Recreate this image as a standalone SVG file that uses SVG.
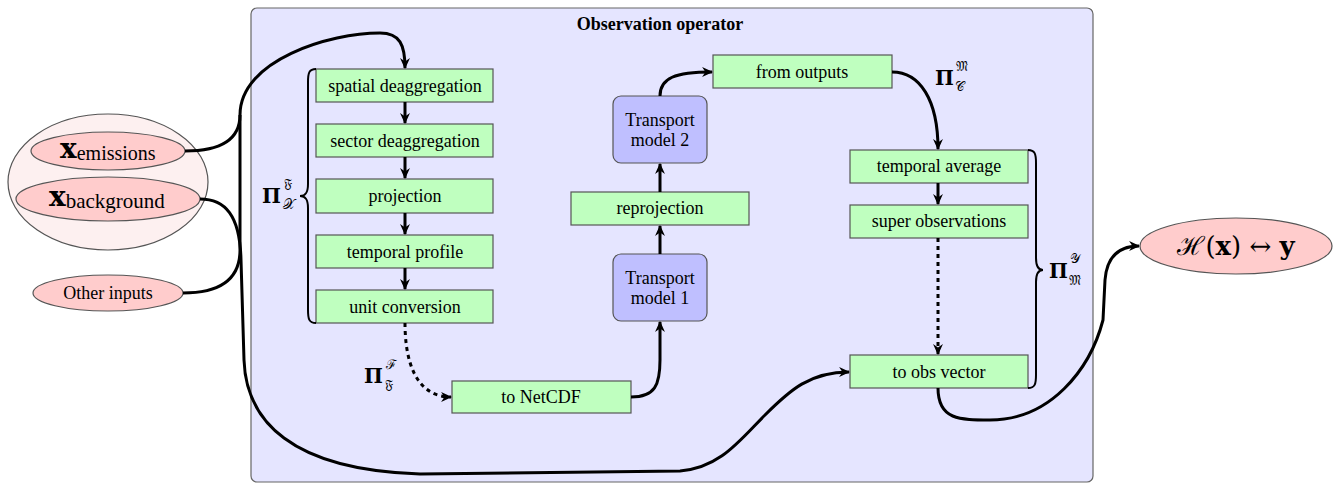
<svg xmlns="http://www.w3.org/2000/svg" width="1336" height="483" viewBox="0 0 1336 483">
<style>
.box{fill:#bfffbf;stroke:#555;stroke-width:1.2}
.tm{fill:#bfbfff;stroke:#555;stroke-width:1.2}
.ell{fill:#ffcccc;stroke:#555;stroke-width:1.2}
.t{font-family:"Liberation Serif","DejaVu Serif",serif;font-size:18px;fill:#000;text-anchor:middle}
.m{font-family:"DejaVu Serif","Liberation Serif",serif;fill:#000}
.c{fill:none;stroke:#000;stroke-width:3}
.d{fill:none;stroke:#000;stroke-width:3;stroke-dasharray:4 4}
.br{fill:none;stroke:#000;stroke-width:2}
</style>
<defs>
<marker id="arr" viewBox="0 0 10 10" refX="9" refY="5" markerWidth="11" markerHeight="11" orient="auto" markerUnits="userSpaceOnUse">
<path d="M0,0.5 L10,5 L0,9.5 L3,5 z" fill="#000"/>
</marker>
</defs>
<g id="container">
<rect x="251" y="8" width="842" height="474" rx="6" fill="#e5e5ff" stroke="#666" stroke-width="1.2"/>
<text x="660" y="30" class="t" font-weight="bold" style="font-size:18px">Observation operator</text>
</g>
<g id="inputs-group">
<ellipse cx="108" cy="182" rx="100" ry="68" fill="#fdf0f0" stroke="#555" stroke-width="1.2"/>
</g>
<g id="x-emissions">
<ellipse class="ell" cx="108" cy="151" rx="77" ry="19"/>
<text x="60" y="158" class="m" font-weight="bold" font-size="28">x<tspan class="t" font-weight="normal" style="font-size:20px;text-anchor:start" dy="2">emissions</tspan></text>
</g>
<g id="x-background">
<ellipse class="ell" cx="108" cy="199" rx="92" ry="22"/>
<text x="49" y="206" class="m" font-weight="bold" font-size="28">x<tspan class="t" font-weight="normal" style="font-size:21px;text-anchor:start" dy="2">background</tspan></text>
</g>
<g id="other-inputs">
<ellipse class="ell" cx="108" cy="293" rx="75" ry="18"/>
<text x="108" y="299" class="t">Other inputs</text>
</g>
<g id="spatial-deaggregation">
<rect class="box" x="316" y="69" width="177" height="33"/>
<text x="405" y="92" class="t">spatial deaggregation</text>
</g>
<g id="sector-deaggregation">
<rect class="box" x="316" y="124" width="177" height="33"/>
<text x="405" y="147" class="t">sector deaggregation</text>
</g>
<g id="projection">
<rect class="box" x="316" y="179" width="177" height="34"/>
<text x="405" y="202" class="t">projection</text>
</g>
<g id="temporal-profile">
<rect class="box" x="316" y="235" width="177" height="33"/>
<text x="405" y="258" class="t">temporal profile</text>
</g>
<g id="unit-conversion">
<rect class="box" x="316" y="290" width="177" height="33"/>
<text x="405" y="313" class="t">unit conversion</text>
</g>
<g id="to-netcdf">
<rect class="box" x="452" y="381" width="179" height="32"/>
<text x="541" y="403" class="t">to NetCDF</text>
</g>
<g id="transport-model-1">
<rect class="tm" x="613" y="254" width="94" height="67" rx="8"/>
<text x="660" y="284" class="t">Transport</text>
<text x="660" y="304" class="t">model 1</text>
</g>
<g id="reprojection">
<rect class="box" x="571" y="192" width="178" height="33"/>
<text x="660" y="214" class="t">reprojection</text>
</g>
<g id="transport-model-2">
<rect class="tm" x="613" y="96" width="94" height="67" rx="8"/>
<text x="660" y="126" class="t">Transport</text>
<text x="660" y="146" class="t">model 2</text>
</g>
<g id="from-outputs">
<rect class="box" x="713" y="55" width="179" height="33"/>
<text x="802" y="78" class="t">from outputs</text>
</g>
<g id="temporal-average">
<rect class="box" x="850" y="150" width="178" height="33"/>
<text x="939" y="172" class="t">temporal average</text>
</g>
<g id="super-observations">
<rect class="box" x="850" y="205" width="178" height="33"/>
<text x="939" y="227" class="t">super observations</text>
</g>
<g id="to-obs-vector">
<rect class="box" x="850" y="355" width="178" height="33"/>
<text x="939" y="378" class="t">to obs vector</text>
</g>
<g id="h-x-y">
<ellipse class="ell" cx="1236" cy="246" rx="96" ry="28"/>
<text x="1236" y="255" class="m" font-size="26" text-anchor="middle">ℋ(<tspan font-weight="bold">x</tspan>) ↔ <tspan font-weight="bold">y</tspan></text>
</g>
<g id="braces">
<path class="br" d="M316,69 C309,69 308,73 308,82 L308,184 C308,192 306,196 300,196 C306,196 308,200 308,208 L308,310 C308,319 309,323 316,323"/>
<path class="br" d="M1028,150 C1035,150 1036,154 1036,163 L1036,258 C1036,266 1038,270 1043,270 C1038,270 1036,274 1036,282 L1036,375 C1036,384 1035,388 1028,388"/>
</g>
<g id="labels">
<text x="262" y="203" class="m" font-size="20" font-weight="bold">Π</text>
<text x="284" y="188" class="m" font-size="13">𝔉</text>
<text x="283" y="209" class="m" font-size="14">𝒳</text>
<text x="364" y="383" class="m" font-size="20" font-weight="bold">Π</text>
<text x="386" y="369" class="m" font-size="13">ℱ</text>
<text x="385" y="389" class="m" font-size="13">𝔉</text>
<text x="935" y="85" class="m" font-size="20" font-weight="bold">Π</text>
<text x="956" y="71" class="m" font-size="13">𝔐</text>
<text x="955" y="91" class="m" font-size="13">𝒞</text>
<text x="1049" y="278" class="m" font-size="20" font-weight="bold">Π</text>
<text x="1070" y="263" class="m" font-size="13">𝒴</text>
<text x="1069" y="285" class="m" font-size="13">𝔐</text>
</g>
<g id="connectors">
<path class="c" d="M185,151 C220,151 240,140 240,115 C240,60 330,33 380,33 C400,33 405,45 405,68" marker-end="url(#arr)"/>
<path class="c" d="M183,293 C222,293 240,278 240,250 L240,115"/>
<path class="c" d="M200,199 C225,199 240,215 241,260 L244,360 C246,420 290,470 420,474 L680,471 C720,468 740,440 765,415 C790,390 810,372 849,372" marker-end="url(#arr)"/>
<path class="c" d="M405,102 L405,123" marker-end="url(#arr)"/>
<path class="c" d="M405,157 L405,178" marker-end="url(#arr)"/>
<path class="c" d="M405,213 L405,234" marker-end="url(#arr)"/>
<path class="c" d="M405,268 L405,289" marker-end="url(#arr)"/>
<path class="d" d="M405,323 C405,360 415,397 451,397" marker-end="url(#arr)"/>
<path class="c" d="M631,397 C655,397 660,385 660,360 L660,322" marker-end="url(#arr)"/>
<path class="c" d="M660,254 L660,226" marker-end="url(#arr)"/>
<path class="c" d="M660,192 L660,164" marker-end="url(#arr)"/>
<path class="c" d="M660,96 C660,78 675,72 712,72" marker-end="url(#arr)"/>
<path class="c" d="M892,72 C920,72 938,100 938,149" marker-end="url(#arr)"/>
<path class="c" d="M938,183 L938,204" marker-end="url(#arr)"/>
<path class="d" d="M938,238 L938,354" marker-end="url(#arr)"/>
<path class="c" d="M938,388 C938,420 960,420 990,420 C1050,420 1090,370 1103,320 L1105,280 C1107,255 1120,246 1139,246" marker-end="url(#arr)"/>
</g>
</svg>
